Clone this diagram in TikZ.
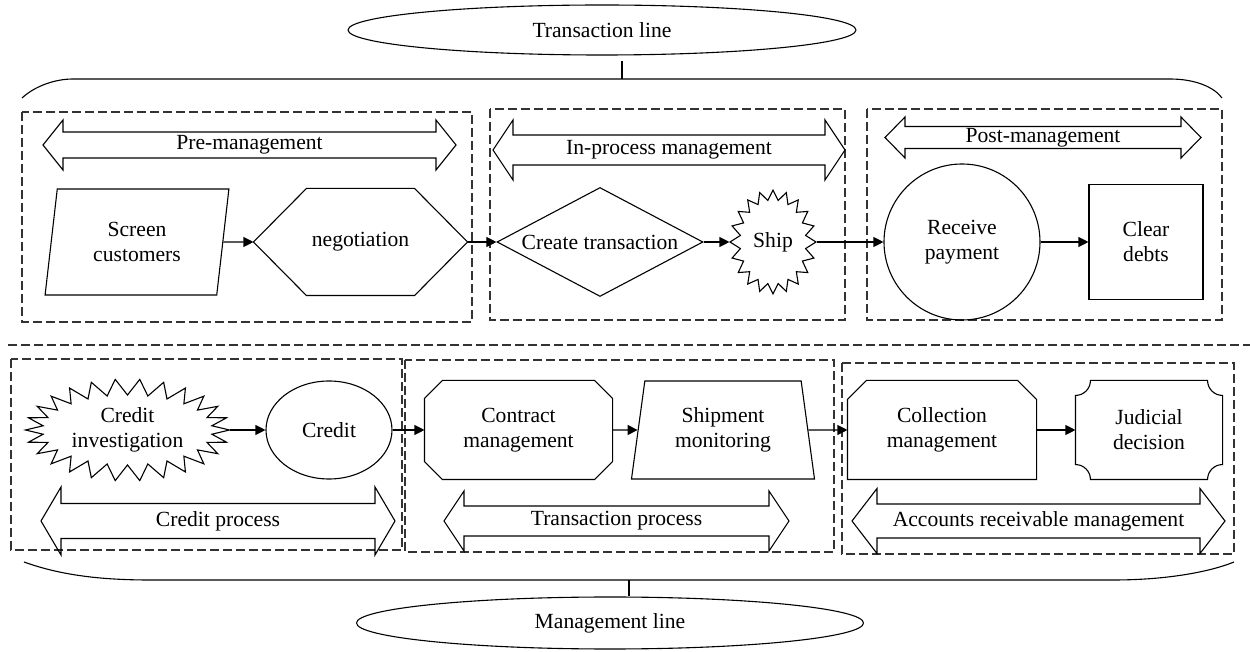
\documentclass[tikz,border=0pt]{standalone}
\usepackage{fontspec}
\setmainfont{Liberation Serif}
\usetikzlibrary{shapes.geometric,arrows.meta,calc}
\newcommand{\dblarrow}[8]{%
 \draw (#2,#4) -- ({#2+#7},{#4-#6}) -- ({#2+#7},{#4-#5}) -- ({#3-#7},{#4-#5}) -- ({#3-#7},{#4-#6}) -- (#3,#4) -- ({#3-#7},{#4+#6}) -- ({#3-#7},{#4+#5}) -- ({#2+#7},{#4+#5}) -- ({#2+#7},{#4+#6}) -- cycle;
 \node (#1) at ({(#2+#3)/2},#4) {#8};}
\begin{document}
\begin{tikzpicture}[x=0.5pt,y=-0.5pt, line width=0.55pt,
 every node/.style={font=\fontsize{10.8}{12.5}\selectfont, align=center, inner sep=0pt},
 arr/.style={-{Triangle[length=5pt,width=5pt]}},
 zone/.style={draw=black!80, dash pattern=on 4.5pt off 2pt},
]
\useasboundingbox (0,0) rectangle (1250,652);

% line ellipses
\node[ellipse, draw, minimum width=254pt, minimum height=25pt] (tl) at (602,30) {Transaction line};
\node[ellipse, draw, minimum width=253.5pt, minimum height=26pt] (ml) at (610,623) {Management line};

% braces
\draw (22,98) .. controls (35,86) and (55,79) .. (73,79) -- (1170,79) .. controls (1195,79) and (1214,87) .. (1222,98);
\coordinate (tb) at (622,79);
\draw[shorten >=2.5pt] (tb) -- (tb |- tl.south);
\draw (24,562) .. controls (60,575) and (100,580) .. (150,580) -- (1113,580) .. controls (1170,580) and (1212,571) .. (1234,562);
\coordinate (bb) at (629,580);
\draw (bb) -- (bb |- ml.north);

% zones
\draw[zone] (22,112) rectangle (472,322);
\draw[zone] (490,109) rectangle (845,320);
\draw[zone] (867,109) rectangle (1222,320);
\draw[zone] (8,345) -- (1250,345);
\draw[zone] (11,359) rectangle (402,550);
\draw[zone] (405,360) rectangle (834,552);
\draw[zone] (842,363) rectangle (1234,554);

% double arrows
\dblarrow{pre}{43}{456}{145}{13}{25}{20}{Pre-management}
\dblarrow{inp}{493}{845}{150}{15}{30}{20}{In-process management}
\dblarrow{post}{885}{1201}{137.5}{11}{20.5}{20}{Post-management}
\dblarrow{crp}{41}{395}{521}{17.5}{34}{20}{Credit process}
\dblarrow{trp}{444}{789}{521}{15}{30}{20}{Transaction process}
\dblarrow{arm}{852}{1225}{521}{17}{32.5}{25}{Accounts receivable management}

% top row
\node[trapezium, draw, trapezium left angle=80.4, trapezium right angle=99.6, trapezium stretches=true, minimum width=92pt, minimum height=53pt] (sc) at (137,242) {Screen\\customers};
\node[minimum width=106.5pt, minimum height=53pt] (neg) at (360.5,242) {negotiation};
\draw (neg.west) -- ($(neg.north west)+(26.5pt,0)$) -- ($(neg.north east)+(-26.5pt,0)$) -- (neg.east) -- ($(neg.south east)+(-26.5pt,0)$) -- ($(neg.south west)+(26.5pt,0)$) -- cycle;
\node[diamond, draw, aspect=1.89, minimum width=103pt, minimum height=54.5pt] (ct) at (600,242) {Create transaction};
\node[ellipse, minimum width=43pt, minimum height=52pt] (ship) at (773,242) {Ship};
\draw ($(ship.center)+(0:21.5pt and 26pt)$) \foreach \k in {0,...,19} { -- ($(ship.center)+({\k*18+9}:16.5pt and 21pt)$) -- ($(ship.center)+({\k*18+18}:21.5pt and 26pt)$) } -- cycle;
\node[circle, draw, minimum size=78pt] (rp) at (962,242) {Receive\\payment};
\node[rectangle, draw, minimum width=57pt, minimum height=57.5pt] (cd) at (1146,242) {Clear\\debts};

\draw[arr] (sc) -- (neg);
\draw[arr] (neg) -- (ct);
\draw[arr] (ct) -- (ship);
\draw[arr] (ship) -- (rp);
\draw[arr] (rp) -- (cd);

% bottom row
\node[ellipse, minimum width=102pt, minimum height=51pt] (ci) at (127.5,430) {Credit\\investigation};
\draw ($(ci.center)+(0:51pt and 25.5pt)$) \foreach \k in {0,...,25} { -- ($(ci.center)+({\k*360/26+180/26}:42.5pt and 17.5pt)$) -- ($(ci.center)+({(\k+1)*360/26}:51pt and 25.5pt)$) } -- cycle;
\node[ellipse, draw, minimum width=63pt, minimum height=49pt] (cr) at (329,430) {Credit};
\node[minimum width=93.5pt, minimum height=49pt] (cm) at (518.5,430) {Contract\\management};
\draw ($(cm.north west)+(9pt,0)$) -- ($(cm.north east)+(-9pt,0)$) -- ($(cm.north east)+(0,-9pt)$) -- ($(cm.south east)+(0,9pt)$) -- ($(cm.south east)+(-9pt,0)$) -- ($(cm.south west)+(9pt,0)$) -- ($(cm.south west)+(0,9pt)$) -- ($(cm.north west)+(0,-9pt)$) -- cycle;
\node[trapezium, draw, trapezium left angle=79.6, trapezium right angle=79.6, trapezium stretches=true, minimum width=92pt, minimum height=49pt] (smo) at (723,430) {Shipment\\monitoring};
\node[minimum width=94pt, minimum height=49pt] (col) at (942,430) {Collection\\management};
\draw ($(col.north west)+(9.5pt,0)$) -- ($(col.north east)+(-9.5pt,0)$) -- ($(col.north east)+(0,-9.5pt)$) -- (col.south east) -- (col.south west) -- ($(col.north west)+(0,-9.5pt)$) -- cycle;
\node[minimum width=73pt, minimum height=49pt] (jd) at (1149,430) {Judicial\\decision};
\draw ($(jd.north west)+(0,-7.5pt)$) arc[start angle=-90, end angle=0, radius=7.5pt] -- ($(jd.north east)+(-7.5pt,0)$) arc[start angle=180, end angle=270, radius=7.5pt] -- ($(jd.south east)+(0,7.5pt)$) arc[start angle=90, end angle=180, radius=7.5pt] -- ($(jd.south west)+(7.5pt,0)$) arc[start angle=0, end angle=90, radius=7.5pt] -- cycle;

\draw[arr] (ci) -- (cr);
\draw[arr] (cr) -- (cm);
\draw[arr] (cm) -- (smo);
\draw[arr] (smo) -- (col);
\draw[arr] (col) -- (jd);
\end{tikzpicture}
\end{document}
